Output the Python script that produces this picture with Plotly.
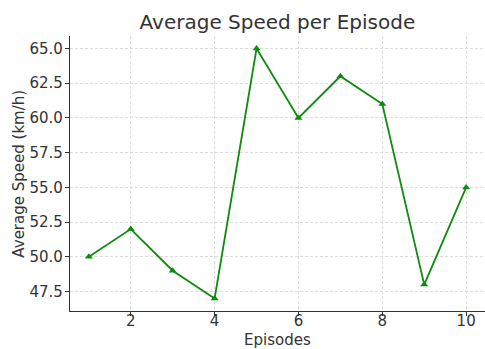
import plotly.graph_objects as go

episodes = [1, 2, 3, 4, 5, 6, 7, 8, 9, 10]
avg_speed = [50, 52, 49, 47, 65, 60, 63, 61, 48, 55]
y_ticks = [47.5, 50.0, 52.5, 55.0, 57.5, 60.0, 62.5, 65.0]
x_ticks = [2, 4, 6, 8, 10]

fig = go.Figure()
fig.add_trace(go.Scatter(
    x=episodes, y=avg_speed, mode="lines+markers",
    line=dict(color="#108a10", width=1.8),
    marker=dict(symbol="triangle-up", size=7, color="#108a10"),
))

font = "DejaVu Sans"
fig.update_layout(
    width=485, height=349,
    margin=dict(l=70, r=0, t=36, b=38),
    paper_bgcolor="white", plot_bgcolor="white",
    showlegend=False,
    font=dict(family=font, color="#333333", size=14),
    title=dict(text="Average Speed per Episode", x=0.572, xanchor="center",
               y=0.937, yanchor="middle", font=dict(size=20, color="#333333")),
    annotations=[
        dict(text="Episodes", xref="paper", yref="paper", x=0.5, y=-0.107,
             xanchor="center", yanchor="middle", showarrow=False,
             font=dict(size=15, color="#333333")),
        dict(text="Average Speed (km/h)", xref="paper", yref="paper",
             x=-0.125, y=0.5, xanchor="center", yanchor="middle", textangle=-90,
             showarrow=False, font=dict(size=15, color="#333333")),
    ],
)
grid = dict(showgrid=True, gridcolor="#dcdcdc", griddash="3px,2px", gridwidth=0.8,
            showline=True, linecolor="#333333", linewidth=1.2,
            ticks="outside", ticklen=4, tickcolor="#333333", zeroline=False,
            automargin=False, tickfont=dict(size=15, color="#333333"))
fig.update_xaxes(range=[0.55, 10.45], tickvals=x_ticks, ticklabelstandoff=-8, **grid)
fig.update_yaxes(range=[46.1, 65.9], tickvals=y_ticks, ticklabelstandoff=-1,
                 ticktext=[f"{v:.1f}" for v in y_ticks], **grid)

fig.write_html("out.html", config={"displayModeBar": False},
               post_script="document.body.style.margin='0';document.body.style.overflow='hidden';")
